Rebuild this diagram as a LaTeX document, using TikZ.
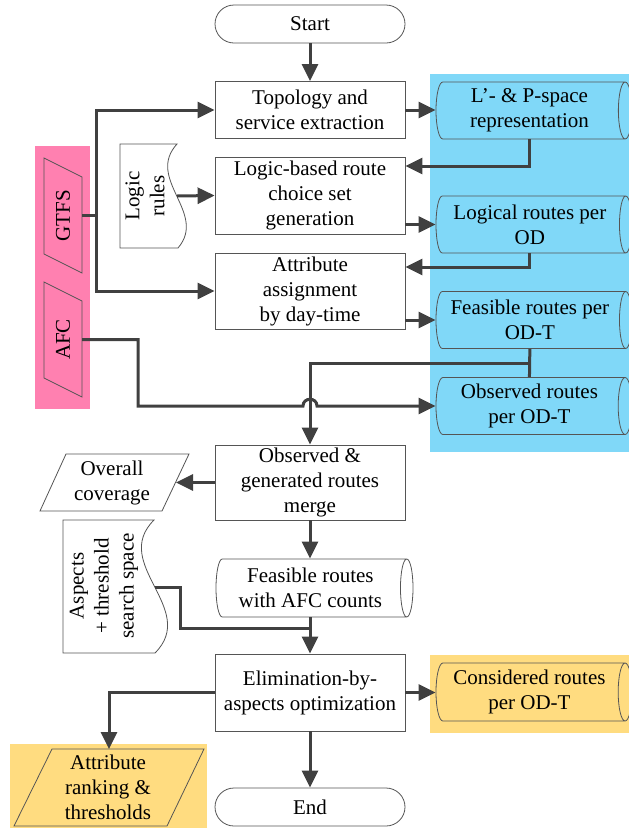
\documentclass[tikz,border=0pt]{standalone}
\usepackage{fontspec}
\setmainfont{Liberation Serif}
\usetikzlibrary{shapes.geometric,arrows.meta,calc}
\definecolor{skyblue}{RGB}{128,216,248}
\definecolor{rosepink}{RGB}{255,128,176}
\definecolor{sandyellow}{RGB}{255,220,128}
\definecolor{linegray}{RGB}{64,64,64}
\definecolor{edgegray}{RGB}{85,85,85}
\begin{document}
\begin{tikzpicture}[x=1pt,y=-1pt,
  every node/.style={font=\fontsize{21}{25}\selectfont, align=center, inner sep=1pt},
  procbox/.style={draw=edgegray, line width=0.8pt, rectangle, minimum width=190pt},
  termbox/.style={draw=edgegray, line width=0.8pt, rectangle, rounded corners=19pt, minimum width=190pt, minimum height=38pt},
  store/.style={draw=edgegray, line width=0.8pt, cylinder, shape aspect=0.3, minimum height=196pt, minimum width=57pt, anchor=shape center},
  outline/.style={draw=edgegray, line width=0.8pt},
  flow/.style={draw=linegray, line width=3pt},
  arr/.style={flow, -{Triangle[length=17pt,width=16pt]}}]
  \useasboundingbox (0,0) rectangle (629,828);
  % coloured backgrounds
  \fill[skyblue] (430,74) rectangle (629,452);
  \fill[rosepink] (35,146) rectangle (90,409);
  \fill[sandyellow] (430,655) rectangle (629,733);
  \fill[sandyellow] (10,744) rectangle (207,828);

  % main column
  \node[termbox] (start) at (310,24) {Start};
  \node[procbox, minimum height=57pt] (topo) at (310,110) {Topology and\\service extraction};
  \node[procbox, minimum height=77pt] (logic) at (310,195.5) {Logic-based route\\choice set\\generation};
  \node[procbox, minimum height=76pt] (attr) at (310,291) {Attribute\\assignment\\by day-time};
  \node[procbox, minimum height=75pt] (merge) at (310,482.5) {Observed \&\\generated routes\\merge};
  \node[store, fill=white, minimum height=197pt, minimum width=58pt] (feasafc) at (314.5,588) {Feasible routes\\with AFC counts};
  \node[procbox, minimum height=77pt] (elim) at (310,692.5) {Elimination-by-\\aspects optimization};
  \node[termbox] (end) at (310,807) {End};

  % route sets
  \node[store, fill=skyblue] (lsp) at (534,110.5) {L'- \& P-space\\representation};
  \node[store, fill=skyblue] (logical) at (534,224.5) {Logical routes per\\OD};
  \node[store, fill=skyblue] (feas) at (534,320) {Feasible routes per\\OD-T};
  \node[store, fill=skyblue] (obs) at (534,406) {Observed routes\\per OD-T};
  \node[store, fill=sandyellow, minimum width=58pt] (cons) at (534,692) {Considered routes\\per OD-T};

  % data inputs
  \draw[outline, fill=rosepink, shift={(63,215.5)}] (-19,-57.5) -- (19,-38.5) -- (19,57.5) -- (-19,38.5) -- cycle;
  \node[rotate=90] (gtfs) at (63,215.5) {GTFS};
  \coordinate (gtfs-r) at (82,215.5);
  \draw[outline, fill=rosepink, shift={(63,339.5)}] (-19,-57.5) -- (19,-38.5) -- (19,57.5) -- (-19,38.5) -- cycle;
  \node[rotate=90] (afc) at (63,339.5) {AFC};
  \coordinate (afc-r) at (82,339.5);

  \draw[outline, fill=white] (120,144) -- (177,144) .. controls (145,179) and (208,213) .. (178,248) -- (120,248) -- cycle;
  \node[rotate=90] (rules) at (145,196) {Logic\\rules};
  \coordinate (rules-r) at (177,196);
  \draw[outline, fill=white] (63,520) -- (154,520) .. controls (110,564) and (199,609) .. (155,653) -- (63,653) -- cycle;
  \node[rotate=90] (aspects) at (104,586) {Aspects\\+ threshold\\search space};
  \coordinate (asp-r) at (155,587);

  % outputs
  \draw[outline, fill=white, shift={(114.5,482.5)}] (-48.5,-28.5) -- (74.5,-28.5) -- (47.5,28.5) -- (-74.5,28.5) -- cycle;
  \node (ovc) at (112,482.5) {Overall\\coverage};
  \coordinate (ovc-r) at (176,482.5);
  \draw[outline, fill=sandyellow, shift={(109,787.5)}] (-57,-38.5) -- (95,-38.5) -- (58,38.5) -- (-95,38.5) -- cycle;
  \node (rank) at (108,787.5) {Attribute\\ranking \&\\thresholds};
  \coordinate (rank-t) at (109,749);

  % connectors
  \draw[arr] (start.south) -- (topo.north);
  \draw[arr] (gtfs-r) -- ++(14,0) |- (topo.west);
  \draw[arr] (gtfs-r) -- ++(14,0) |- (attr.west);
  \draw[arr] (rules-r) -- (logic.west);
  \draw[arr] (topo.east) -- (topo.east -| lsp.west);
  \draw[arr] (lsp.south) |- ([yshift=29.5pt]logic.east);
  \draw[arr] (logic.east |- logical.west) -- (logical.west);
  \draw[arr] (logical.south) |- ([yshift=24pt]attr.east);
  \draw[arr] (attr.east |- feas.west) -- (feas.west);
  \coordinate (j1) at ($(feas.south)!.5!(obs.north)$);
  \draw[flow] (feas.south) -- (obs.north);
  \draw[arr] (j1) -| (merge.north);
  \coordinate (hop) at (merge.north |- obs.west);
  \draw[arr] (afc-r) -- ++(56,0) |- ([xshift=-7pt]hop) .. controls ([xshift=-7pt,yshift=9pt]hop) and ([xshift=7pt,yshift=9pt]hop) .. ([xshift=7pt]hop) -- (obs.west);
  \draw[arr] (merge.west) -- (ovc-r);
  \draw[arr] (merge.south) -- (merge.south |- feasafc.north);
  \draw[arr] (merge.south |- feasafc.south) -- (elim.north);
  \coordinate (j2) at (310,628);
  \draw[flow] (asp-r) -- ++(25,0) |- (j2);
  \draw[arr] (elim.west) -| (rank-t);
  \draw[arr] (elim.east) -- (elim.east -| cons.west);
  \draw[arr] (elim.south) -- (end.north);
\end{tikzpicture}
\end{document}
